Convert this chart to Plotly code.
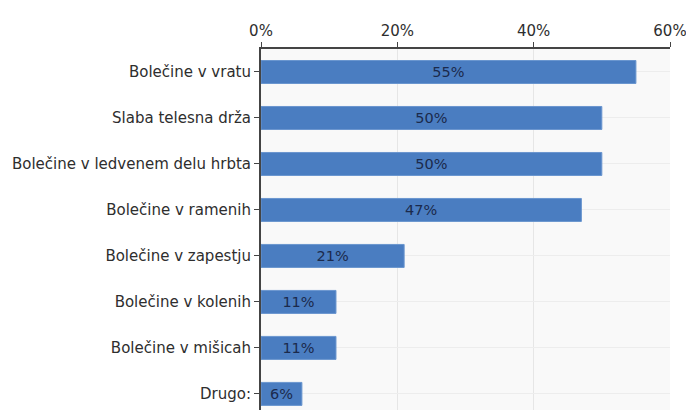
import plotly.graph_objects as go

# Survey: reported health complaints (share of respondents)
categories = [
    "Bolečine v vratu",
    "Slaba telesna drža",
    "Bolečine v ledvenem delu hrbta",
    "Bolečine v ramenih",
    "Bolečine v zapestju",
    "Bolečine v kolenih",
    "Bolečine v mišicah",
    "Drugo:",
]
values = [55, 50, 50, 47, 21, 11, 11, 6]
x_ticks = [0, 20, 40, 60]
x_tick_labels = ["0%", "20%", "40%", "60%"]

fig = go.Figure(
    go.Bar(
        x=values,
        y=categories,
        orientation="h",
        width=0.5,
        marker=dict(color="#4a7dc1", line=dict(color="#6a96cf", width=1)),
        text=[f"{v}%" for v in values],
        textposition="inside",
        insidetextanchor="middle",
        textfont=dict(family="DejaVu Sans", size=14.5, color="#1b2a4c"),
        constraintext="none",
        hoverinfo="skip",
    )
)

fig.update_layout(
    width=686,
    height=410,
    margin=dict(l=261, r=16, t=49, b=0),
    paper_bgcolor="white",
    plot_bgcolor="#f9f9f9",
    font=dict(family="DejaVu Sans", size=15, color="#2e2e2e"),
    showlegend=False,
    xaxis=dict(
        side="top",
        range=[0, 60],
        tickvals=x_ticks,
        ticktext=x_tick_labels,
        ticks="outside",
        ticklen=5,
        tickcolor="#444444",
        showline=True,
        linecolor="#444444",
        linewidth=2,
        showgrid=True,
        gridcolor="#e6e6e6",
        zeroline=False,
        ticklabeloverflow="allow",
        tickfont=dict(size=15, color="#2e2e2e"),
    ),
    yaxis=dict(
        type="category",
        categoryorder="array",
        categoryarray=categories,
        range=[7.35, -0.5],
        ticks="outside",
        ticklen=5,
        tickcolor="#444444",
        showline=True,
        linecolor="#444444",
        linewidth=2,
        showgrid=True,
        gridcolor="#ededed",
        tickfont=dict(size=15, color="#2e2e2e"),
    ),
)

fig.write_html("out.html")
